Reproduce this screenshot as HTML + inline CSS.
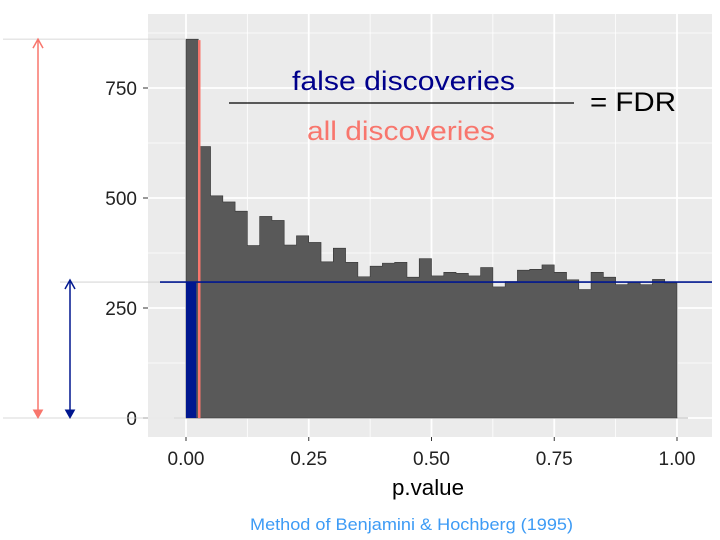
<!DOCTYPE html>
<html><head><meta charset="utf-8"><style>
html,body{margin:0;padding:0;background:#fff;}
svg{display:block;font-family:"Liberation Sans",sans-serif;}
</style></head><body>
<svg id="chart" width="720" height="540" viewBox="0 0 720 540">
<rect x="148" y="14" width="564" height="423" fill="#ebebeb"/>
<g id="grid"></g>
<g id="bars"></g>
<g id="axes"></g>
<g id="annot"></g>
<text x="392" y="495" font-size="22" textLength="72" lengthAdjust="spacingAndGlyphs" fill="#000">p.value</text>
<text x="250" y="530" font-size="17" textLength="323" lengthAdjust="spacingAndGlyphs" fill="#3d9bf5">Method of Benjamini &amp; Hochberg (1995)</text>
<text x="292" y="90" font-size="27" textLength="223" lengthAdjust="spacingAndGlyphs" fill="#00008b">false discoveries</text>
<line x1="229" y1="103" x2="574" y2="103" stroke="#000" stroke-width="1.2"/>
<text x="307" y="140" font-size="27" textLength="188" lengthAdjust="spacingAndGlyphs" fill="#f8766d">all discoveries</text>
<text x="590" y="111" font-size="27" textLength="86" lengthAdjust="spacingAndGlyphs" fill="#000">= FDR</text>
</svg>
<script>
const binWidth = 0.025;
const counts = [861,617,505,491,470,392,458,449,393,414,399,355,386,354,321,345,352,354,320,362,
                323,331,329,323,342,298,310,336,338,348,331,314,292,331,320,303,309,303,315,307];
const nullLevel = 309;
const cutoff = 0.027;
const xTicks = [0,0.25,0.5,0.75,1];
const xTickLabels = ["0.00","0.25","0.50","0.75","1.00"];
const yTicks = [0,250,500,750];
const yTickLabels = ["0","250","500","750"];

const NS="http://www.w3.org/2000/svg";
const X = v => 186 + v*491;
const Y = v => 418 - v*110/250;
function mk(tag, attrs, parent){const e=document.createElementNS(NS,tag);for(const k in attrs)e.setAttribute(k,attrs[k]);parent.appendChild(e);return e;}
const grid=document.getElementById('grid'), bars=document.getElementById('bars'), axes=document.getElementById('axes'), annot=document.getElementById('annot');

for(let i=0;i<xTicks.length-1;i++){const m=(xTicks[i]+xTicks[i+1])/2;const l=mk('line',{x1:X(m),x2:X(m),y1:14,y2:437,stroke:'#fff','stroke-width':0.8},grid);

}
const yMinor=[125,375,625,875];
yMinor.forEach(v=>{const l=mk('line',{x1:148,x2:712,y1:Y(v),y2:Y(v),stroke:'#fff','stroke-width':0.8},grid);

});
xTicks.forEach(v=>{const l=mk('line',{x1:X(v),x2:X(v),y1:14,y2:437,stroke:'#fff','stroke-width':1.8},grid);

});
yTicks.forEach(v=>{const l=mk('line',{x1:148,x2:712,y1:Y(v),y2:Y(v),stroke:'#fff','stroke-width':1.8},grid);

});

const bl=mk('line',{x1:174,x2:688,y1:Y(0),y2:Y(0),stroke:'#bbb','stroke-width':1},bars);


let d='M'+X(0)+','+Y(0);
counts.forEach((c,i)=>{d+=' L'+X(i*binWidth)+','+Y(c)+' L'+X((i+1)*binWidth)+','+Y(c);});
d+=' L'+X(counts.length*binWidth)+','+Y(0)+' Z';
const p=mk('path',{d:d,fill:'#595959',stroke:'#333','stroke-width':0.6},bars);


counts.forEach((c,i)=>{const r=mk('rect',{x:X(i*binWidth),y:Y(c),width:X(binWidth)-X(0),height:Y(0)-Y(c),fill:'transparent'},bars);

});

const fb=mk('rect',{x:X(0),y:Y(nullLevel),width:X(0.021)-X(0),height:Y(0)-Y(nullLevel),fill:'#00178f'},annot);


const cl=mk('line',{x1:X(cutoff),x2:X(cutoff),y1:Y(counts[0])+1,y2:Y(0),stroke:'#f8766d','stroke-width':2.5},annot);


const nl=mk('line',{x1:160,x2:712,y1:Y(nullLevel),y2:Y(nullLevel),stroke:'#00178f','stroke-width':1.6},annot);


[[3,186,Y(counts[0])],[3,186,Y(0)],[60,160,Y(nullLevel)]].forEach(g=>{const l=mk('line',{x1:g[0],x2:g[1],y1:g[2],y2:g[2],stroke:'#ccc','stroke-width':0.8},annot);

});
function arrow(x,y1,y2,col,name){const g=mk('g',{},annot);


mk('line',{x1:x,x2:x,y1:y1+1,y2:y2-1,stroke:col,'stroke-width':1.5},g);
mk('path',{d:`M${x-5},${y1+9} L${x},${y1} L${x+5},${y1+9}`,fill:'none',stroke:col,'stroke-width':1.5},g);
mk('path',{d:`M${x-4.5},${y2-8} L${x},${y2} L${x+4.5},${y2-8} Z`,fill:col,stroke:col,'stroke-width':1},g);}
arrow(38,Y(counts[0]),Y(0),'#f8766d','all-discoveries-arrow');
arrow(70,Y(nullLevel)-2,Y(0),'#00178f','false-discoveries-arrow');

xTicks.forEach((v,i)=>{const t=mk('line',{x1:X(v),x2:X(v),y1:437,y2:441,stroke:'#333','stroke-width':1},axes);


const tx=mk('text',{x:X(v),y:465,'font-size':19,'text-anchor':'middle',fill:'#222'},axes);tx.textContent=xTickLabels[i];

});
yTicks.forEach((v,i)=>{const t=mk('line',{x1:143,x2:148,y1:Y(v),y2:Y(v),stroke:'#333','stroke-width':1},axes);


const tx=mk('text',{x:137,y:Y(v)+7,'font-size':19,'text-anchor':'end',fill:'#222'},axes);tx.textContent=yTickLabels[i];

});
</script>
</body></html>
